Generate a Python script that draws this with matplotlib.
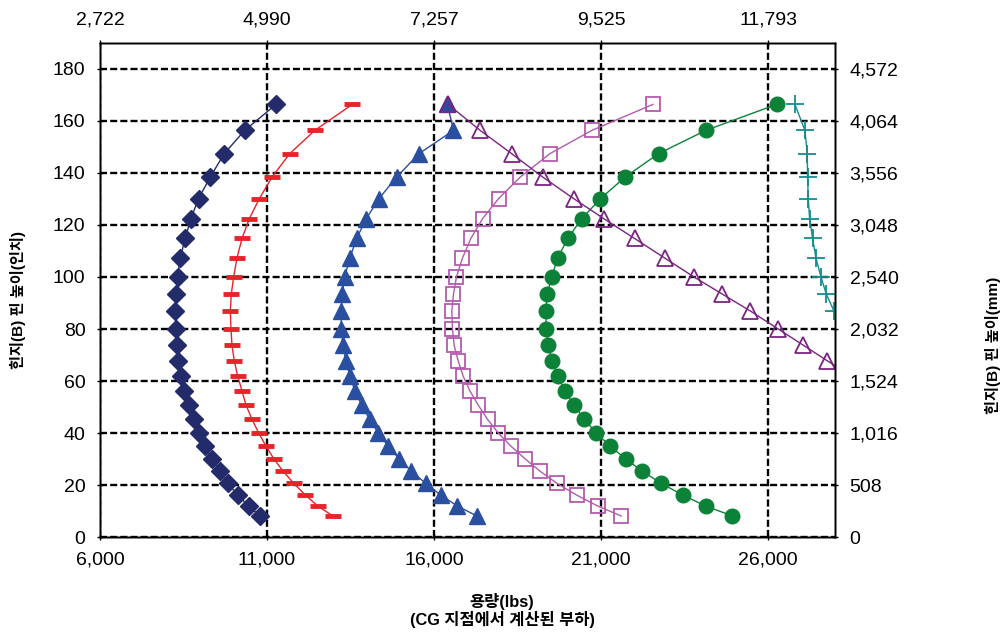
import matplotlib
matplotlib.use("Agg")
import matplotlib.pyplot as plt

plt.rcParams['font.family'] = ['Liberation Sans', 'Noto Sans CJK KR', 'DejaVu Sans']

# shared hinge-pin heights (inches)
heights = [166.3, 156.3, 147.4, 138.4, 130.1, 122.4, 114.8, 107.3, 100.0, 93.4,
           86.9, 80.2, 73.8, 67.8, 61.9, 56.3, 50.8, 45.3, 40.1, 35.0,
           30.2, 25.4, 20.7, 16.2, 12.0, 8.2]

cap_diamond = [11270, 10330, 9720, 9300, 8950, 8720, 8550, 8400, 8320, 8280,
               8250, 8270, 8300, 8330, 8420, 8520, 8650, 8800, 8950, 9150,
               9350, 9580, 9830, 10120, 10450, 10800]
cap_bar = [13550, 12430, 11680, 11150, 10770, 10470, 10250, 10100, 10000, 9930,
           9900, 9920, 9950, 10020, 10120, 10250, 10370, 10550, 10750, 10970,
           11200, 11480, 11800, 12150, 12520, 12970]
cap_tri = [16400, 16580, 15550, 14880, 14350, 13970, 13680, 13480, 13320, 13250,
           13220, 13220, 13270, 13360, 13480, 13630, 13830, 14070, 14330, 14630,
           14950, 15320, 15750, 16200, 16700, 17280]
cap_square = [22550, 20720, 19470, 18580, 17930, 17450, 17100, 16850, 16670, 16580,
              16530, 16550, 16600, 16720, 16870, 17070, 17320, 17600, 17920, 18300,
              18720, 19170, 19680, 20270, 20900, 21600]
cap_circle = [26250, 24130, 22720, 21720, 20980, 20420, 20000, 19700, 19520, 19380,
              19350, 19350, 19420, 19530, 19700, 19920, 20180, 20500, 20850, 21270,
              21730, 22230, 22800, 23450, 24130, 24930]
cap_open_tri = [16420, 17380, 18320, 19250, 20180, 21080, 22000, 22900, 23780, 24630,
                25470, 26280, 27050, 27770, 28500]
cap_plus = [26800, 27100, 27170, 27180, 27200, 27240, 27330, 27430, 27580, 27740, 27970]

x_ticks = [6000, 11000, 16000, 21000, 26000]
x_labels = ['6,000', '11,000', '16,000', '21,000', '26,000']
kg_labels = ['2,722', '4,990', '7,257', '9,525', '11,793']
y_ticks = [0, 20, 40, 60, 80, 100, 120, 140, 160, 180]
mm_labels = ['0', '508', '1,016', '1,524', '2,032', '2,540', '3,048', '3,556', '4,064', '4,572']

fig = plt.figure(figsize=(10.08, 6.33), dpi=100)
W, H = 1008, 633
L, R, T, B = 100, 835, 42.7, 537.3
ax = fig.add_axes([L / W, 1 - B / H, (R - L) / W, (B - T) / H])

lw = 1.0
ax.plot(cap_diamond, heights, color='#232B6B', lw=lw, marker='D', ms=9.5, mec='#232B6B', mfc='#232B6B', zorder=3)
ax.plot(cap_bar, heights, color='#E8232A', lw=lw, marker='_', ms=11, mew=3.5, mec='#E8232A', zorder=3)
ax.plot(cap_tri, heights, color='#2A4FA0', lw=lw, marker='^', ms=11, mec='#2A4FA0', mfc='#2A4FA0', zorder=3)
ax.plot(cap_open_tri, heights[:len(cap_open_tri)], color='#7A2482', lw=lw, marker='^', ms=11,
        mfc='none', mec='#7A2482', mew=1.3, zorder=4)
ax.plot(cap_square, heights, color='#B45AAF', lw=lw, marker='s', ms=10,
        mfc='none', mec='#B45AAF', mew=1.3, zorder=3)
ax.plot(cap_circle, heights, color='#0B8238', lw=lw, marker='o', ms=10.5, mec='#0B8238', mfc='#0B8238', zorder=3)
ax.plot(cap_plus, heights[:len(cap_plus)], color='#138C8C', lw=lw, marker='+', ms=13,
        mew=1.3, mec='#138C8C', zorder=3)

ax.set_xlim(6000, 28000)
ax.set_ylim(0, 190)
ax.set_xticks(x_ticks)
ax.set_xticklabels(x_labels)
ax.set_yticks(y_ticks)
ax.grid(True, color='black', lw=1.7, ls=(0, (3, 1.3)))
ax.set_axisbelow(True)

for sp in ax.spines.values():
    sp.set_linewidth(1.0)

tick_kw = dict(direction='inout', length=5, width=1.0, labelsize=14, pad=8, color='black')
ax.tick_params(axis='both', **tick_kw)

axt = ax.twiny()
axt.set_xlim(ax.get_xlim())
axt.set_xticks(x_ticks)
axt.set_xticklabels(kg_labels)
axt.tick_params(axis='x', **tick_kw)

axr = ax.twinx()
axr.set_ylim(ax.get_ylim())
axr.set_yticks(y_ticks)
axr.set_yticklabels(mm_labels)
axr.tick_params(axis='y', **tick_kw)
for a in (axt, axr):
    for sp in a.spines.values():
        sp.set_linewidth(1.0)

fig.text(18 / W, 1 - 300 / H, '힌지(B) 핀 높이(인치)', rotation=90, ha='center', va='center',
         fontsize=11, fontweight='bold')
fig.text(993 / W, 1 - 345 / H, '힌지(B) 핀 높이(mm)', rotation=90, ha='center', va='center',
         fontsize=11, fontweight='bold')
fig.text(502 / W, 1 - 602 / H, '용량(lbs)', ha='center', va='center', fontsize=11.8, fontweight='bold')
fig.text(502 / W, 1 - 620 / H, '(CG 지점에서 계산된 부하)', ha='center', va='center',
         fontsize=11.8, fontweight='bold')

fig.savefig('out.png', dpi=100)
